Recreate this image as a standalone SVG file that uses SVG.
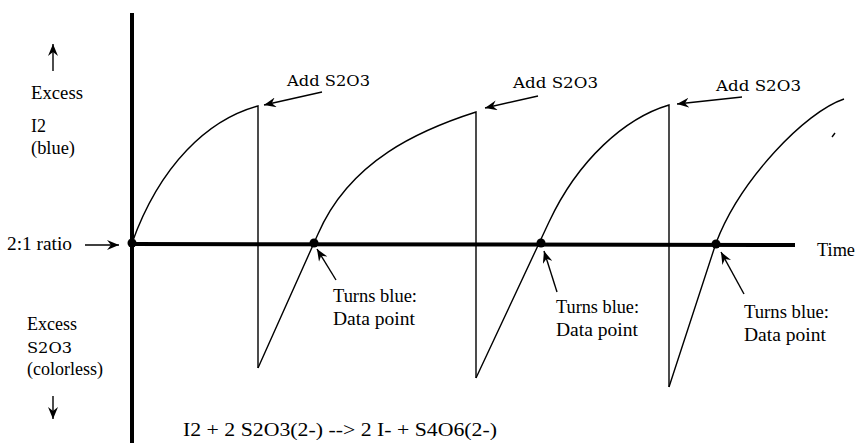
<svg xmlns="http://www.w3.org/2000/svg" width="855" height="443" viewBox="0 0 855 443">
  <style>
    .t { font-family: "Liberation Serif", "Times New Roman", serif; font-size: 18px; fill: #000; }
    .a { font-family: "DejaVu Serif", "Liberation Serif", serif; font-size: 15px; fill: #000; }
    .axis { stroke: #000; stroke-width: 4; fill: none; }
    .curve { stroke: #000; stroke-width: 1.4; fill: none; }
    .ptr { stroke: #000; stroke-width: 1.4; fill: none; marker-end: url(#head); }
    .dot { fill: #000; }
  </style>
  <defs>
    <marker id="head" markerUnits="userSpaceOnUse" markerWidth="14" markerHeight="10" refX="12" refY="5" orient="auto">
      <path d="M0,0 L12,5 L0,10 L4,5 Z" fill="#000"/>
    </marker>
  </defs>
  <rect width="855" height="443" fill="#fff"/>

  <g id="axes">
    <line class="axis" x1="132" y1="13" x2="132" y2="443"/>
    <line class="axis" x1="132" y1="244" x2="795" y2="245"/>
  </g>

  <g id="curves">
    <path class="curve" d="M132,243 C160,165 208,119.5 258,106 L258,368"/>
    <path class="curve" d="M258,368 L318,234 C350,160 421,129.6 476,112 L476,378"/>
    <path class="curve" d="M476,378 L549,222 C578,160 625,118 669,105 L669,387"/>
    <path class="curve" d="M669,387 L716,243 C740,180 805,112 844,99"/>
    <path class="curve" d="M832,137 L835,133" stroke-width="2"/>
  </g>

  <g id="points">
    <circle class="dot" cx="132" cy="243" r="4.5"/>
    <circle class="dot" cx="314" cy="243" r="4.5"/>
    <circle class="dot" cx="541" cy="243" r="4.5"/>
    <circle class="dot" cx="716" cy="244" r="4.5"/>
  </g>

  <g id="connectors">
    <path class="ptr" d="M322,92 L264,105"/>
    <path class="ptr" d="M538,96 L485,108"/>
    <path class="ptr" d="M742,97 L677,104"/>
    <path class="ptr" d="M336,280 L317,249"/>
    <path class="ptr" d="M557,292 L544,251"/>
    <path class="ptr" d="M744,294 L721,252"/>
    <path class="ptr" d="M85,245 L119,245" stroke-width="2.5"/>
    <path class="ptr" d="M53,71 L53,44" stroke-width="2"/>
    <path class="ptr" d="M53,396 L53,419" stroke-width="2"/>
  </g>

  <g id="label-excess-i2">
    <text class="t" x="31" y="99" textLength="52" lengthAdjust="spacingAndGlyphs">Excess</text>
    <text class="t" x="31" y="132">I2</text>
    <text class="t" x="31" y="154" textLength="44" lengthAdjust="spacingAndGlyphs">(blue)</text>
  </g>
  <g id="label-ratio">
    <text class="t" x="7" y="250" textLength="65" lengthAdjust="spacingAndGlyphs">2:1 ratio</text>
  </g>
  <g id="label-excess-s2o3">
    <text class="t" x="27" y="330" textLength="50" lengthAdjust="spacingAndGlyphs">Excess</text>
    <text class="a" x="27" y="353" textLength="45" lengthAdjust="spacingAndGlyphs">S2O3</text>
    <text class="t" x="27" y="375" textLength="76" lengthAdjust="spacingAndGlyphs">(colorless)</text>
  </g>
  <g id="label-time">
    <text class="t" x="817" y="256" textLength="38" lengthAdjust="spacingAndGlyphs">Time</text>
  </g>
  <g id="label-add1">
    <text class="a" x="287" y="86" textLength="83" lengthAdjust="spacingAndGlyphs">Add S2O3</text>
  </g>
  <g id="label-add2">
    <text class="a" x="513" y="88" textLength="85" lengthAdjust="spacingAndGlyphs">Add S2O3</text>
  </g>
  <g id="label-add3">
    <text class="a" x="716" y="91" textLength="85" lengthAdjust="spacingAndGlyphs">Add S2O3</text>
  </g>
  <g id="label-turns1">
    <text class="t" x="333" y="302" textLength="84" lengthAdjust="spacingAndGlyphs">Turns blue:</text>
    <text class="t" x="333" y="325" textLength="82" lengthAdjust="spacingAndGlyphs">Data point</text>
  </g>
  <g id="label-turns2">
    <text class="t" x="556" y="313" textLength="83" lengthAdjust="spacingAndGlyphs">Turns blue:</text>
    <text class="t" x="556" y="336" textLength="82" lengthAdjust="spacingAndGlyphs">Data point</text>
  </g>
  <g id="label-turns3">
    <text class="t" x="744" y="318" textLength="85" lengthAdjust="spacingAndGlyphs">Turns blue:</text>
    <text class="t" x="744" y="341" textLength="82" lengthAdjust="spacingAndGlyphs">Data point</text>
  </g>
  <g id="label-equation">
    <text class="t" x="183" y="436" textLength="314" lengthAdjust="spacingAndGlyphs">I2 + 2 S2O3(2-)  --&gt;  2 I-  +  S4O6(2-)</text>
  </g>
</svg>
